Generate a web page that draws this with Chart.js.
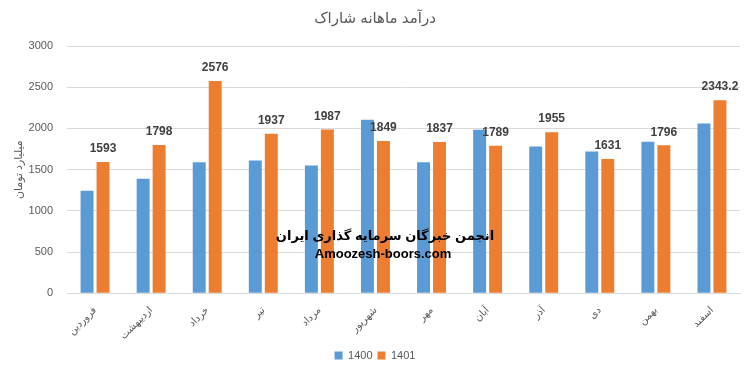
<!DOCTYPE html>
<html>
<head>
<meta charset="utf-8">
<script src="https://cdn.jsdelivr.net/npm/chart.js@4.4.0/dist/chart.umd.min.js"></script>
<style>
  body { margin: 0; background: #fff; }
  #wrap { width: 750px; height: 377px; }
</style>
</head>
<body>
<div id="wrap"><canvas id="barChart" width="750" height="377"></canvas></div>
<script>
var months = ["فروردین","اردیبهشت","خرداد","تیر","مرداد","شهریور","مهر","آبان","آذر","دی","بهمن","اسفند"];
var values1400 = [1245, 1390, 1590, 1610, 1550, 2105, 1590, 1985, 1780, 1720, 1840, 2060];
var values1401 = [1593, 1798, 2576, 1937, 1987, 1849, 1837, 1789, 1955, 1631, 1796, 2343.2];
var yTicks = [0, 500, 1000, 1500, 2000, 2500, 3000];

var fontFam = "'Liberation Sans', 'DejaVu Sans', sans-serif";

// value labels over the 1401 bars + watermark text
var extras = {
  id: "extras",
  afterDatasetsDraw: function (chart) {
    var ctx = chart.ctx;
    ctx.save();
    ctx.fillStyle = "#404040";
    ctx.font = "bold 12px " + fontFam;
    ctx.textAlign = "center";
    ctx.textBaseline = "bottom";
    chart.getDatasetMeta(1).data.forEach(function (bar, i) {
      ctx.fillText(String(values1401[i]), bar.x, bar.y - 7);
    });
    ctx.fillStyle = "#000";
    ctx.font = "bold 13px " + fontFam;
    ctx.fillText("انجمن خبرگان سرمایه گذاری ایران", 385, 243);
    ctx.fillText("Amoozesh-boors.com", 383, 261);
    ctx.restore();
  }
};

new Chart("barChart", {
  type: "bar",
  data: {
    labels: months,
    datasets: [{
      label: "1400",
      backgroundColor: "#5B9BD5",
      data: values1400,
      categoryPercentage: 0.57,
      barPercentage: 0.81
    }, {
      label: "1401",
      backgroundColor: "#ED7D31",
      data: values1401,
      categoryPercentage: 0.57,
      barPercentage: 0.81
    }]
  },
  options: {
    responsive: false,
    animation: false,
    layout: { padding: { left: 10, right: 10, top: 4, bottom: 6 } },
    plugins: {
      title: {
        display: true,
        text: "درآمد ماهانه شاراک",
        color: "#595959",
        font: { family: fontFam, size: 15, weight: "normal" },
        padding: { top: 6, bottom: 18 }
      },
      legend: {
        position: "bottom",
        labels: {
          color: "#595959",
          font: { family: fontFam, size: 11 },
          boxWidth: 8,
          boxHeight: 8,
          padding: 5
        }
      },
      tooltip: { enabled: false }
    },
    scales: {
      x: {
        grid: { display: false },
        border: { color: "#d9d9d9" },
        ticks: {
          color: "#595959",
          font: { family: fontFam, size: 10 },
          minRotation: 45,
          maxRotation: 45
        }
      },
      y: {
        min: 0,
        max: 3000,
        afterBuildTicks: function (axis) {
          axis.ticks = yTicks.map(function (v) { return { value: v }; });
        },
        afterFit: function (axis) { axis.width = 57; },
        grid: { color: "#d9d9d9", drawTicks: false },
        border: { display: false },
        ticks: {
          color: "#595959",
          font: { family: fontFam, size: 11 },
          padding: 14,
          callback: function (v) { return String(v); }
        },
        title: {
          display: true,
          text: "میلیارد تومان",
          color: "#595959",
          font: { family: fontFam, size: 11 },
          padding: { top: 2, bottom: 0 }
        }
      }
    }
  },
  plugins: [extras]
});
</script>
</body>
</html>
